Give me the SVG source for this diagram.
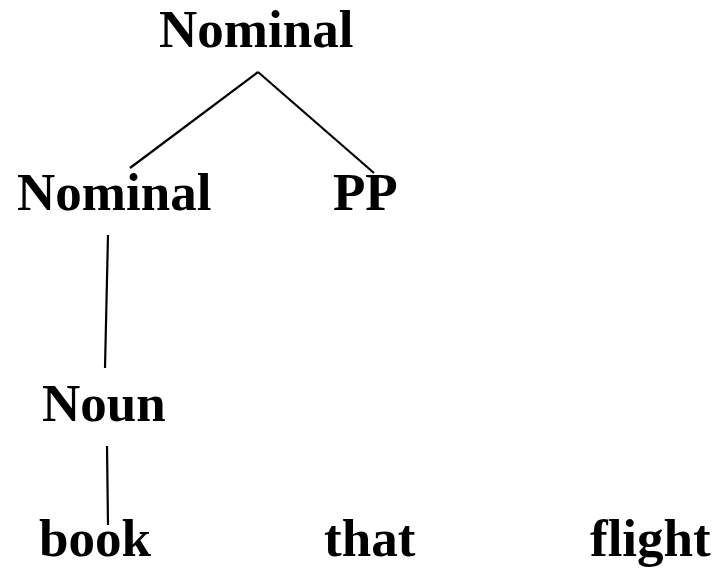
<svg xmlns="http://www.w3.org/2000/svg" width="720" height="569" viewBox="0 0 720 569">
<style>
text{font-family:"Liberation Serif","Times New Roman",serif;font-weight:bold;font-size:53px;fill:#000}
line{stroke:#000;stroke-width:2.2}
</style>
<rect width="720" height="569" fill="#fff"/>
<g id="connectors">
<line x1="258" y1="72" x2="130" y2="168"/>
<line x1="258" y1="72" x2="374" y2="173"/>
<line x1="108" y1="235" x2="105" y2="368"/>
<line x1="107" y1="446" x2="108" y2="525"/>
</g>
<g id="n-nominal-top"><text x="159" y="47">Nominal</text></g>
<g id="n-nominal"><text x="17" y="210">Nominal</text></g>
<g id="n-pp"><text x="333" y="210">PP</text></g>
<g id="n-noun"><text x="42" y="421">Noun</text></g>
<g id="n-book"><text x="39" y="556">book</text></g>
<g id="n-that"><text x="324" y="556">that</text></g>
<g id="n-flight"><text x="590" y="556">flight</text></g>
</svg>
